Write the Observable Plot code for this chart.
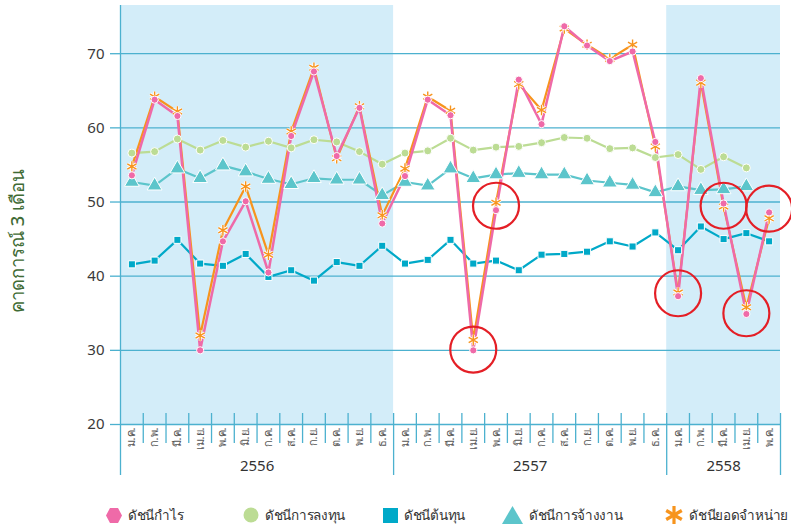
<!DOCTYPE html>
<html><head><meta charset="utf-8">
<script src="https://cdn.jsdelivr.net/npm/d3@7"></script>
<script src="https://cdn.jsdelivr.net/npm/@observablehq/plot@0.6"></script>
<style>
body{margin:0;background:#fff;font-family:"Noto Sans",sans-serif;}
#wrap{position:relative;width:791px;height:528px;overflow:hidden;background:#fff}
#legend{position:absolute;top:501px;left:0;width:791px;height:28px}
.item{position:absolute;top:0;display:flex;align-items:center;height:28px;font-size:13.5px;letter-spacing:-0.3px;color:#333;white-space:nowrap}
.item svg{margin-right:6px;flex:none}
</style></head><body><div id="wrap"><div id="chart"></div><div id="legend"></div></div>
<script>
// ---- data ----
const monthNames = ["ม.ค.","ก.พ.","มี.ค.","เม.ย.","พ.ค.","มิ.ย.","ก.ค.","ส.ค.","ก.ย.","ต.ค.","พ.ย.","ธ.ค."];
const years = ["2556","2557","2558"];
const monthsPerYear = [12, 12, 5];
const shadedYears = ["2556","2558"];

const profit = [53.6,63.8,61.6,30.0,44.7,50.1,40.5,58.9,67.6,56.2,62.7,47.1,
                53.5,63.8,61.7,30.0,48.9,66.5,60.5,73.7,71.1,69.0,70.3,58.1,
                37.3,66.7,49.8,34.9,48.6];
const sales = [54.8,64.2,62.2,32.0,46.2,52.1,42.9,59.5,68.1,55.9,62.9,48.2,
               54.5,64.2,62.3,31.4,49.9,65.9,62.4,73.4,71.2,69.3,71.2,57.5,
               37.8,66.1,49.4,35.8,47.8];
const invest = [56.6,56.8,58.5,57.0,58.3,57.4,58.2,57.3,58.4,58.1,56.8,55.1,
                56.6,56.9,58.6,57.0,57.4,57.5,58.0,58.7,58.6,57.2,57.3,56.0,
                56.4,54.4,56.1,54.6];
const cost = [41.6,42.1,44.9,41.7,41.4,43.0,39.9,40.8,39.4,41.9,41.4,44.1,
              41.7,42.2,44.9,41.7,42.1,40.8,42.9,43.0,43.3,44.7,44.0,45.9,
              43.5,46.7,45.0,45.8,44.7];
const employ = [52.7,52.2,54.5,53.2,54.9,54.1,53.1,52.4,53.2,53.0,53.0,50.9,
                52.7,52.2,54.5,53.2,53.7,53.9,53.7,53.7,52.9,52.6,52.3,51.3,
                52.1,51.6,51.7,52.1];
const highlightMonths = [15, 16, 24, 26, 27, 28];
const highlightValues = [30.1, 49.5, 37.7, 49.5, 35.0, 49.1];
const yTicks = [20, 30, 40, 50, 60, 70];
const yTitle = "คาดการณ์ 3 เดือน";
const legendNames = ["ดัชนีกำไร","ดัชนีการลงทุน","ดัชนีต้นทุน","ดัชนีการจ้างงาน","ดัชนียอดจำหน่าย"];

// ---- colours ----
const PINK = "#ef6aa8", ORANGE = "#f7941d", GREEN = "#bcdc94", CYAN = "#00a9c8", TEAL = "#5cc5cb";
const GRID = "#4cb1cf", SHADE = "#d3edf9";

// ---- derived structures ----
const months = [];
const yearSpans = [];
let k = 0;
years.forEach((y, yi) => {
  const start = k;
  for (let m = 0; m < monthsPerYear[yi]; m++) months.push({i: k++, label: monthNames[m]});
  yearSpans.push({year: y, start, end: k - 1});
});
const N = months.length;
const monthSeps = months.slice(0, -1).map(d => d.i + 0.5).filter(x => !yearSpans.some(s => s.end + 0.5 === x));
const yearSeps = yearSpans.map(s => s.end + 0.5);
const shade = yearSpans.filter(s => shadedYears.includes(s.year));
const highlights = highlightMonths.map((m, j) => ({x: m, y: highlightValues[j]}));

const X = (d, i) => i, Y = d => d;

const chart = Plot.plot({
  width: 791, height: 490,
  marginLeft: 120, marginRight: 11, marginTop: 5, marginBottom: 66,
  style: {fontFamily: "'Noto Sans', sans-serif", background: "white", overflow: "hidden"},
  x: {domain: [-0.5, N - 0.5], axis: null},
  y: {domain: [20, 76.5], axis: null},
  marks: [
    Plot.rectX(shade, {x1: d => d.start - 0.5, x2: d => d.end + 0.5, y1: 20, y2: 76.5, fill: SHADE}),
    Plot.gridY(yTicks, {stroke: GRID, strokeOpacity: 1, strokeWidth: 1.3}),
    Plot.axisY(yTicks, {tickSize: 10, tickPadding: 6, stroke: GRID, strokeWidth: 1.3, fill: "#3a3a3a", fontSize: 15, label: null}),
    Plot.ruleX([-0.5], {x: d => d, stroke: GRID, strokeWidth: 1.3, insetBottom: -51}),
    Plot.ruleX(yearSeps, {x: d => d, stroke: GRID, strokeWidth: 1.3, insetTop: 408, insetBottom: -51}),
    Plot.ruleX(monthSeps, {x: d => d, stroke: GRID, strokeWidth: 1.3, insetTop: 408, insetBottom: -19}),
    Plot.text(months, {x: "i", text: "label", frameAnchor: "bottom", rotate: -90, textAnchor: "end", lineAnchor: "middle", dy: 3, fontSize: 11, fill: "#555"}),
    Plot.text(yearSpans, {x: d => (d.start + d.end) / 2, text: "year", frameAnchor: "bottom", dy: 46, fontSize: 15, fill: "#333"}),
    Plot.text([yTitle], {text: d => d, frameAnchor: "left", rotate: -90, textAnchor: "middle", lineAnchor: "middle", dx: -102, dy: 26, fontSize: 18.5, fill: "#3f6b35", fontWeight: 500}),
    // lines
    Plot.line(invest, {x: X, y: Y, stroke: GREEN, strokeWidth: 2.2}),
    Plot.line(employ, {x: X, y: Y, stroke: TEAL, strokeWidth: 2.2}),
    Plot.line(cost, {x: X, y: Y, stroke: CYAN, strokeWidth: 2.2}),
    Plot.line(sales, {x: X, y: Y, stroke: ORANGE, strokeWidth: 2.2}),
    Plot.line(profit, {x: X, y: Y, stroke: PINK, strokeWidth: 2.5}),
    // markers
    Plot.dot(invest, {x: X, y: Y, r: 4, fill: GREEN, stroke: "white", strokeWidth: 1}),
    Plot.dot(employ, {x: X, y: Y, symbol: "triangle", r: 5.5, fill: TEAL, stroke: "white", strokeWidth: 1}),
    Plot.dot(cost, {x: X, y: Y, symbol: "square", r: 4, fill: CYAN, stroke: "white", strokeWidth: 1}),
    Plot.dot(sales, {x: X, y: Y, symbol: "asterisk", r: 5, stroke: "white", strokeWidth: 3}),
    Plot.dot(sales, {x: X, y: Y, symbol: "asterisk", r: 5, stroke: ORANGE, strokeWidth: 1.4}),
    Plot.dot(profit, {x: X, y: Y, r: 3.6, fill: PINK, stroke: "white", strokeWidth: 1}),
    // highlight circles
    Plot.dot(highlights, {x: "x", y: "y", r: 23, fill: "none", stroke: "#e41f26", strokeWidth: 2.2})
  ]
});
document.getElementById("chart").appendChild(chart);

// ---- legend ----
const legendSymbols = [
  `<svg width="16" height="17" viewBox="0 0 16 17"><polygon points="4,1 12,1 16,8.5 12,16 4,16 0,8.5" fill="${PINK}"/></svg>`,
  `<svg width="16" height="16" viewBox="0 0 16 16"><circle cx="8" cy="8" r="7.5" fill="${GREEN}"/></svg>`,
  `<svg width="15" height="15" viewBox="0 0 15 15"><rect width="15" height="15" fill="${CYAN}"/></svg>`,
  `<svg width="21" height="18" viewBox="0 0 21 18"><polygon points="10.5,0 21,18 0,18" fill="${TEAL}"/></svg>`,
  `<svg width="18" height="18" viewBox="-9 -9 18 18"><g stroke="${ORANGE}" stroke-width="3.2" stroke-linecap="butt"><line x1="0" y1="-9" x2="0" y2="9"/><line x1="-7.8" y1="-4.5" x2="7.8" y2="4.5"/><line x1="-7.8" y1="4.5" x2="7.8" y2="-4.5"/></g></svg>`
];
const legendLeft = [106, 243, 383, 502, null];
const legend = document.getElementById("legend");
legendNames.forEach((name, j) => {
  const div = document.createElement("div");
  div.className = "item";
  if (legendLeft[j] === null) div.style.right = "3px";
  else div.style.left = legendLeft[j] + "px";
  div.innerHTML = legendSymbols[j] + `<span>${name}</span>`;
  legend.appendChild(div);
});
</script>
</body></html>
